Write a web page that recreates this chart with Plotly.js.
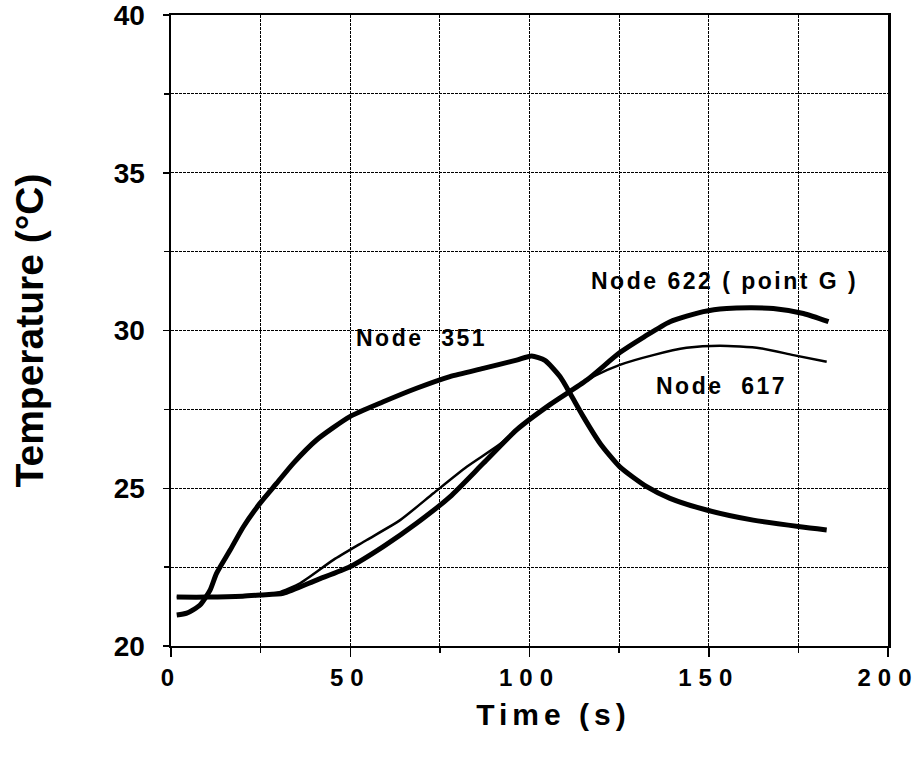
<!DOCTYPE html>
<html>
<head>
<meta charset="utf-8">
<script src="https://cdn.plot.ly/plotly-3.0.1.min.js"></script>
<style>
  html, body { margin: 0; padding: 0; background: #fff; }
  #chart { width: 924px; height: 760px; }
  .xtick text { letter-spacing: 7px; }
  text.xtitle { letter-spacing: 5px; transform: translateX(24px); }
  text.annotation-text { letter-spacing: 2.5px; }
</style>
</head>
<body>
<div id="chart"></div>
<script>
// Node 351
const t351 = [1.6, 4.4, 8.1, 10.9, 12.7, 16.5, 20.2, 24.8, 29.5, 34.1, 40.6, 49.9, 59.2, 68.5, 77.8, 87.1, 96.4, 100.6, 104.3, 108.5, 111.3, 115.0, 119.7, 125.2, 132.7, 139.2, 149.4, 162.4, 175.5, 182.9];
const y351 = [20.98, 21.04, 21.3, 21.77, 22.3, 23.04, 23.78, 24.52, 25.16, 25.79, 26.53, 27.27, 27.74, 28.17, 28.54, 28.80, 29.06, 29.19, 29.05, 28.54, 28.01, 27.27, 26.42, 25.68, 25.05, 24.68, 24.31, 23.99, 23.78, 23.68];
// Node 622 (point G)
const t622 = [1.6, 10, 20, 25, 31.3, 40.6, 49.9, 59.2, 68.5, 77.8, 87.1, 96.4, 105.7, 116.0, 125.2, 132.0, 139.2, 148.5, 155.0, 162.0, 168.0, 176.4, 183.4];
const y622 = [21.55, 21.55, 21.58, 21.62, 21.67, 22.09, 22.51, 23.15, 23.89, 24.73, 25.79, 26.85, 27.65, 28.43, 29.3, 29.8, 30.28, 30.6, 30.7, 30.72, 30.7, 30.54, 30.28];
// Node 617
const t617 = [1.6, 10, 20, 25, 30, 36.0, 45.3, 54.6, 63.9, 73.2, 82.5, 91.8, 101.1, 110.0, 118.0, 125.2, 134.5, 143.8, 153.1, 164.3, 173.6, 182.9];
const y617 = [21.55, 21.55, 21.58, 21.62, 21.7, 21.99, 22.73, 23.36, 23.99, 24.84, 25.68, 26.4, 27.3, 27.98, 28.55, 28.91, 29.22, 29.45, 29.52, 29.44, 29.22, 29.01];

const xTicks = [0, 50, 100, 150, 200];
const yTicks = [20, 25, 30, 35, 40];

const labels = ['Node  351', 'Node 622 ( point G )', 'Node  617'];
const labelX = [70.0, 154.4, 153.6];
const labelY = [29.75, 31.57, 28.24];

const FONT = 'Liberation Sans, Arial, Helvetica, sans-serif';

const traces = [
  { x: t351, y: y351, mode: 'lines', name: 'Node 351', line: { color: '#000', width: 5, shape: 'spline', smoothing: 0.6 } },
  { x: t622, y: y622, mode: 'lines', name: 'Node 622', line: { color: '#000', width: 5, shape: 'spline', smoothing: 0.6 } },
  { x: t617, y: y617, mode: 'lines', name: 'Node 617', line: { color: '#000', width: 2.5, shape: 'spline', smoothing: 0.6 } }
];

const gridStyle = { showgrid: true, gridcolor: '#000', gridwidth: 1, griddash: '3px,1px' };

const layout = {
  width: 924, height: 760,
  margin: { l: 171, r: 36, t: 15, b: 114 },
  paper_bgcolor: '#fff', plot_bgcolor: '#fff',
  showlegend: false,
  font: { family: FONT, color: '#000' },
  xaxis: Object.assign({
    range: [0, 200], tickmode: 'array', tickvals: xTicks, ticktext: xTicks.map(String),
    ticks: 'outside', ticklen: 9, tickwidth: 1.5, tickcolor: '#000',
    showline: true, linecolor: '#000', linewidth: 2, mirror: true,
    zeroline: false, automargin: false, ticklabeloverflow: 'allow',
    tickfont: { size: 24, weight: 'bold', family: FONT },
    minor: Object.assign({ tickmode: 'linear', tick0: 0, dtick: 25, ticks: 'outside', ticklen: 5, tickcolor: '#000', tickwidth: 1.5 }, gridStyle),
    title: { text: 'Time (s)', font: { size: 30, weight: 'bold', family: FONT }, standoff: 14 }
  }, gridStyle),
  yaxis: Object.assign({
    range: [20, 40], tickmode: 'array', tickvals: yTicks, ticktext: yTicks.map(String),
    ticks: 'outside', ticklen: 6, tickwidth: 1.5, tickcolor: '#000',
    showline: true, linecolor: '#000', linewidth: 2.5, mirror: true,
    zeroline: false, automargin: false, ticklabeloverflow: 'allow',
    tickfont: { size: 28, weight: 'bold', family: FONT },
    ticklabelstandoff: 12,
    minor: Object.assign({ tickmode: 'linear', tick0: 20, dtick: 2.5, ticks: 'outside', ticklen: 5, tickcolor: '#000', tickwidth: 1.5 }, gridStyle),
    title: { text: 'Temperature (°C)', font: { size: 39, weight: 'bold', family: FONT }, standoff: 58 }
  }, gridStyle),
  annotations: labels.map((txt, i) => ({
    x: labelX[i], y: labelY[i], xref: 'x', yref: 'y',
    text: txt, showarrow: false, xanchor: 'center', yanchor: 'middle',
    font: { size: 23, weight: 'bold', family: FONT, color: '#000' }
  }))
};

Plotly.newPlot('chart', traces, layout, { staticPlot: true, displayModeBar: false });
</script>
</body>
</html>
